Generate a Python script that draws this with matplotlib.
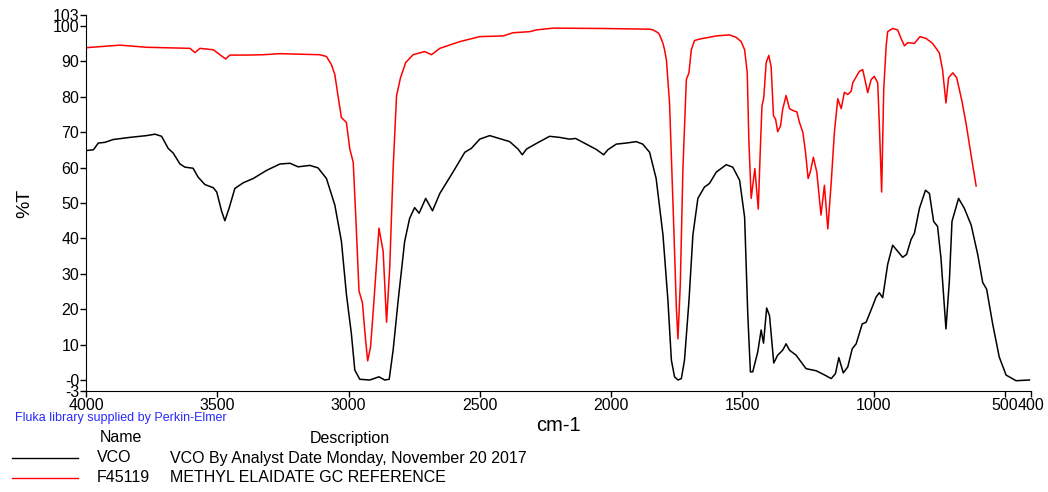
"""
IR spectrum overlay: VCO sample vs. F45119 methyl elaidate reference.
"""
import matplotlib
matplotlib.use('Agg')
import matplotlib.pyplot as plt
from matplotlib.lines import Line2D

# ---- data (wavenumber cm-1, %T) ----
vco_wn = [3997, 3972, 3953, 3928, 3896, 3833, 3769, 3737, 3712, 3687, 3668, 3642,
          3623, 3592, 3573, 3547, 3515, 3502, 3483, 3471, 3455, 3433, 3401, 3363,
          3312, 3261, 3223, 3192, 3147, 3116, 3084, 3052, 3027, 3008, 2989, 2976,
          2957, 2919, 2884, 2862, 2845, 2830, 2811, 2786, 2767, 2748, 2731, 2706,
          2680, 2652, 2602, 2557, 2532, 2500, 2462, 2386, 2354, 2338, 2322, 2284,
          2234, 2196, 2158, 2135, 2094, 2056, 2028, 2012, 1980, 1942, 1904, 1879,
          1853, 1828, 1802, 1783, 1770, 1758, 1745, 1732, 1720, 1703, 1688, 1669,
          1644, 1625, 1599, 1561, 1536, 1510, 1491, 1479, 1469, 1460, 1441, 1428,
          1419, 1407, 1396, 1380, 1365, 1346, 1333, 1320, 1295, 1257, 1218, 1186,
          1161, 1145, 1132, 1115, 1098, 1081, 1066, 1043, 1028, 1003, 990, 978,
          965, 946, 927, 908, 889, 874, 857, 844, 825, 802, 787, 771, 756, 743,
          724, 711, 701, 676, 654, 628, 603, 584, 569, 546, 521, 495, 457, 406]
vco_t = [64.8, 65.0, 66.9, 67.1, 67.9, 68.5, 69.0, 69.4, 68.8, 65.4, 64.1, 61.0,
         60.1, 59.8, 57.3, 55.2, 54.3, 53.1, 47.6, 45.0, 48.5, 54.1, 55.7, 56.9,
         59.2, 61.0, 61.2, 60.2, 60.6, 59.9, 56.9, 49.4, 39.2, 24.3, 13.1, 2.9,
         0.3, 0.1, 1.0, 0.1, 0.3, 8.5, 22.4, 39.2, 45.7, 48.7, 47.1, 51.3,
         47.8, 52.7, 58.7, 64.3, 65.4, 68.0, 69.0, 67.3, 65.2, 63.6, 65.2, 66.8,
         68.8, 68.5, 68.0, 68.2, 66.6, 65.1, 63.6, 65.0, 66.6, 66.9, 67.3, 66.6,
         64.3, 56.9, 41.0, 22.4, 5.7, 1.0, 0.1, 0.5, 5.7, 22.4, 41.0, 51.3,
         54.5, 55.5, 58.7, 60.8, 60.1, 56.4, 46.0, 18.7, 2.4, 2.4, 8.0, 14.2,
         10.5, 20.4, 18.2, 4.9, 7.1, 8.5, 10.3, 8.5, 7.1, 3.3, 2.7, 1.5,
         0.5, 1.9, 6.4, 2.1, 3.8, 8.9, 10.3, 15.9, 16.4, 21.0, 23.5, 24.7,
         23.3, 32.7, 38.1, 36.4, 34.7, 35.5, 39.7, 41.5, 48.5, 53.6, 52.7, 44.8,
         43.4, 34.5, 14.5, 28.0, 44.8, 51.3, 48.5, 43.8, 35.5, 27.6, 25.7, 15.9,
         6.6, 1.5, -0.1, 0.1]

ref_wn = [3997, 3871, 3769, 3604, 3585, 3566, 3515, 3490, 3468, 3452, 3388, 3325,
          3262, 3109, 3084, 3065, 3052, 3040, 3027, 3008, 2995, 2982, 2972, 2960,
          2947, 2937, 2927, 2916, 2903, 2884, 2868, 2855, 2843, 2830, 2817, 2802,
          2782, 2754, 2710, 2684, 2652, 2576, 2500, 2411, 2373, 2310, 2284, 2221,
          2031, 1853, 1840, 1821, 1815, 1802, 1796, 1789, 1777, 1762, 1751, 1745,
          1736, 1726, 1713, 1703, 1694, 1682, 1663, 1599, 1549, 1523, 1504, 1491,
          1481, 1475, 1466, 1452, 1439, 1432, 1425, 1418, 1409, 1399, 1390, 1381,
          1373, 1365, 1354, 1346, 1333, 1320, 1305, 1292, 1282, 1269, 1259, 1249,
          1241, 1229, 1216, 1200, 1187, 1174, 1161, 1149, 1136, 1123, 1111, 1098,
          1085, 1079, 1054, 1041, 1022, 1009, 997, 984, 978, 969, 961, 952,
          946, 927, 908, 895, 882, 870, 844, 823, 800, 775, 749, 737,
          724, 714, 698, 683, 663, 648, 628, 609]
ref_t = [93.8, 94.5, 93.9, 93.6, 92.4, 93.6, 93.2, 91.8, 90.6, 91.7, 91.7, 91.8,
         92.1, 91.8, 91.3, 89.0, 86.2, 80.2, 74.1, 72.7, 65.2, 61.5, 45.7, 25.2,
         21.9, 13.1, 5.5, 9.4, 22.4, 42.9, 36.4, 16.4, 31.7, 59.7, 80.2, 85.3,
         89.6, 91.8, 92.7, 91.8, 93.6, 95.5, 96.9, 97.1, 98.0, 98.3, 98.8, 99.3,
         99.2, 99.0, 98.8, 98.0, 97.4, 95.0, 93.2, 90.4, 78.2, 45.7, 20.5, 11.7,
         27.1, 59.7, 84.8, 86.7, 93.2, 95.8, 96.2, 97.1, 97.4, 96.7, 95.5, 93.2,
         86.7, 68.0, 51.3, 59.7, 48.3, 63.4, 77.3, 79.7, 89.5, 91.6, 88.5, 74.6,
         73.6, 70.1, 71.8, 76.4, 80.3, 76.6, 76.0, 75.7, 72.7, 69.9, 64.3, 56.9,
         58.7, 62.9, 58.7, 46.6, 55.0, 42.7, 55.9, 69.9, 79.4, 76.6, 81.2, 80.6,
         81.5, 83.9, 87.1, 87.6, 81.1, 84.8, 85.7, 83.9, 72.7, 53.1, 82.0, 94.1,
         98.3, 99.2, 98.8, 96.4, 94.3, 95.2, 95.0, 96.9, 96.4, 95.0, 92.3, 87.6,
         78.2, 85.3, 86.7, 85.3, 78.7, 72.7, 63.4, 54.8]

x_ticks = [4000, 3500, 3000, 2500, 2000, 1500, 1000, 500, 400]
y_ticks = [103, 100, 90, 80, 70, 60, 50, 40, 30, 20, 10, 0, -3]
y_labels = ['103', '100', '90', '80', '70', '60', '50', '40', '30', '20', '10', '-0', '-3']

legend_names = ['VCO', 'F45119']
legend_desc = ['VCO By Analyst Date Monday, November 20 2017',
               'METHYL ELAIDATE GC REFERENCE']
legend_colors = ['black', 'red']

plt.rcParams['font.family'] = ['Liberation Sans', 'DejaVu Sans']

W, H = 1048, 492
fig = plt.figure(figsize=(W / 100, H / 100), dpi=100)
ax = fig.add_axes([86 / W, 101 / H, 945 / W, 376 / H])

ax.plot(vco_wn, vco_t, color='black', linewidth=1.1)
ax.plot(ref_wn, ref_t, color='red', linewidth=1.1)

ax.set_xlim(4000, 400)
ax.set_ylim(-3, 103)
ax.set_xticks(x_ticks)
ax.set_xticklabels([str(v) for v in x_ticks])
ax.set_yticks(y_ticks)
ax.set_yticklabels(y_labels)
ax.tick_params(labelsize=11.5, length=4, width=1, pad=1)
for s in ['top', 'right']:
    ax.spines[s].set_visible(False)
ax.set_xlabel('cm-1', fontsize=14.5, labelpad=2)
ax.set_ylabel('%T', fontsize=14, labelpad=14)

def fx(px):
    return px / W

def fy(py):
    return 1 - py / H

fig.text(fx(15), fy(418), 'Fluka library supplied by Perkin-Elmer',
         color='#2a2aff', fontsize=9, va='center')
fig.text(fx(100), fy(438), 'Name', fontsize=11.5, va='center')
fig.text(fx(310), fy(438), 'Description', fontsize=11.5, va='center')
for i, (name, desc, c) in enumerate(zip(legend_names, legend_desc, legend_colors)):
    yy = 458 + i * 20
    fig.add_artist(Line2D([fx(12), fx(78)], [fy(yy), fy(yy)], color=c, linewidth=1))
    fig.text(fx(97), fy(yy), name, fontsize=11.5, va='center')
    fig.text(fx(170), fy(yy), desc, fontsize=11.5, va='center')

fig.savefig('out.png', dpi=100)
